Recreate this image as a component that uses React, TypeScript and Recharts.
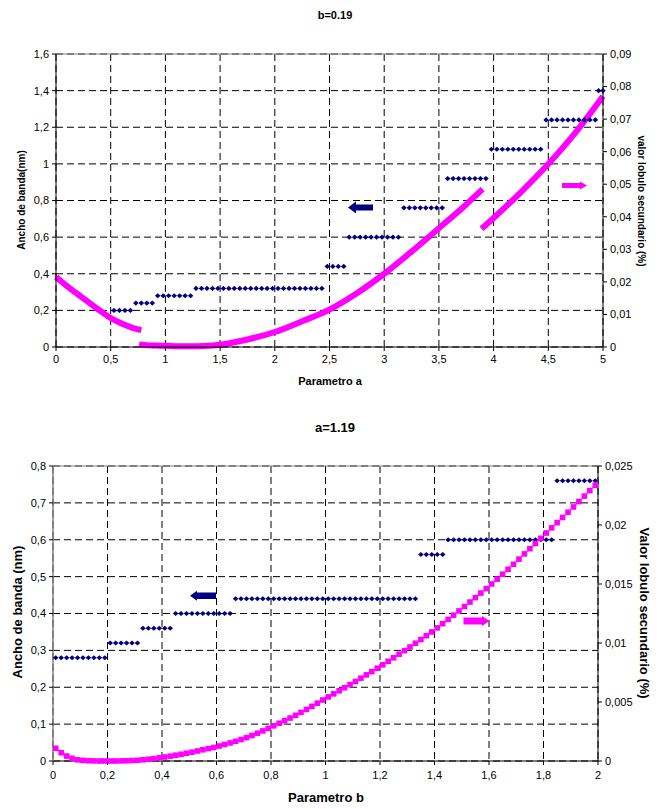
import React from 'react';
import { ComposedChart, Line, XAxis, YAxis, CartesianGrid, ReferenceLine } from 'recharts';

const FONT = '"Liberation Sans", Arial, sans-serif';
const NAVY = '#000080';
const MAGENTA = '#FF00FF';

// ---- grafico 1: b=0.19 (parametro a)
const aBand = [
  0.53, 0.58, 0.63, 0.68,
  0.73, 0.78, 0.83, 0.88,
  0.93, 0.98, 1.03, 1.08, 1.13, 1.18, 1.23,
  1.28, 1.33, 1.38, 1.43, 1.48, 1.53, 1.58, 1.63, 1.68, 1.73, 1.78, 1.83,
  1.88, 1.93, 1.98, 2.03, 2.08, 2.13, 2.18, 2.23, 2.28, 2.33, 2.38, 2.43,
  2.48, 2.53, 2.58, 2.63,
  2.68, 2.73, 2.78, 2.83, 2.88, 2.93, 2.98, 3.03, 3.08, 3.13,
  3.18, 3.23, 3.28, 3.33, 3.38, 3.43, 3.48, 3.53,
  3.58, 3.63, 3.68, 3.73, 3.78, 3.83, 3.88, 3.93,
  3.98, 4.03, 4.08, 4.13, 4.18, 4.23, 4.28, 4.33, 4.38, 4.43,
  4.48, 4.53, 4.58, 4.63, 4.68, 4.73, 4.78, 4.83, 4.88, 4.93,
  4.96, 5.0,
];
const anchoA = [
  0.2, 0.2, 0.2, 0.2,
  0.24, 0.24, 0.24, 0.24,
  0.28, 0.28, 0.28, 0.28, 0.28, 0.28, 0.28,
  0.32, 0.32, 0.32, 0.32, 0.32, 0.32, 0.32, 0.32, 0.32, 0.32, 0.32, 0.32,
  0.32, 0.32, 0.32, 0.32, 0.32, 0.32, 0.32, 0.32, 0.32, 0.32, 0.32, 0.32,
  0.44, 0.44, 0.44, 0.44,
  0.6, 0.6, 0.6, 0.6, 0.6, 0.6, 0.6, 0.6, 0.6, 0.6,
  0.76, 0.76, 0.76, 0.76, 0.76, 0.76, 0.76, 0.76,
  0.92, 0.92, 0.92, 0.92, 0.92, 0.92, 0.92, 0.92,
  1.08, 1.08, 1.08, 1.08, 1.08, 1.08, 1.08, 1.08, 1.08, 1.08,
  1.24, 1.24, 1.24, 1.24, 1.24, 1.24, 1.24, 1.24, 1.24, 1.24,
  1.4, 1.4,
];

// lobulo secundario, tres tramos
const aLobe1 = [0, 0.1, 0.2, 0.3, 0.4, 0.5, 0.6, 0.7, 0.78];
const lobe1 = [0.0215, 0.0187, 0.0162, 0.0137, 0.0112, 0.0089, 0.0072, 0.0059, 0.0052];
const aLobe2 = [0.76, 0.85, 0.95, 1.05, 1.15, 1.25, 1.35, 1.5, 1.75, 2, 2.25, 2.5, 2.75, 3, 3.25, 3.5, 3.75, 3.9];
const lobe2 = [0.00075, 0.0005, 0.0004, 0.0003, 0.0002, 0.0002, 0.0003, 0.0007, 0.0023, 0.0046, 0.0079, 0.0115, 0.0165, 0.0225, 0.0293, 0.0365, 0.0438, 0.0485];
const aLobe3 = [3.89, 4, 4.25, 4.5, 4.75, 5];
const lobe3 = [0.0363, 0.0396, 0.0476, 0.0562, 0.0659, 0.077];

const aTicks = [0, 0.5, 1, 1.5, 2, 2.5, 3, 3.5, 4, 4.5, 5];
const anchoTicksA = [0, 0.2, 0.4, 0.6, 0.8, 1, 1.2, 1.4, 1.6];
const lobeTicksA = [0, 0.01, 0.02, 0.03, 0.04, 0.05, 0.06, 0.07, 0.08, 0.09];

// ---- grafico 2: a=1.19 (parametro b)
const bVals = [
  0.01, 0.03, 0.05, 0.07, 0.09, 0.11, 0.13, 0.15, 0.17, 0.19,
  0.21, 0.23, 0.25, 0.27, 0.29, 0.31, 0.33, 0.35, 0.37, 0.39,
  0.41, 0.43, 0.45, 0.47, 0.49, 0.51, 0.53, 0.55, 0.57, 0.59,
  0.61, 0.63, 0.65, 0.67, 0.69, 0.71, 0.73, 0.75, 0.77, 0.79,
  0.81, 0.83, 0.85, 0.87, 0.89, 0.91, 0.93, 0.95, 0.97, 0.99,
  1.01, 1.03, 1.05, 1.07, 1.09, 1.11, 1.13, 1.15, 1.17, 1.19,
  1.21, 1.23, 1.25, 1.27, 1.29, 1.31, 1.33, 1.35, 1.37, 1.39,
  1.41, 1.43, 1.45, 1.47, 1.49, 1.51, 1.53, 1.55, 1.57, 1.59,
  1.61, 1.63, 1.65, 1.67, 1.69, 1.71, 1.73, 1.75, 1.77, 1.79,
  1.81, 1.83, 1.85, 1.87, 1.89, 1.91, 1.93, 1.95, 1.97, 1.99,
];
const anchoB = [
  0.28, 0.28, 0.28, 0.28, 0.28, 0.28, 0.28, 0.28, 0.28, 0.28,
  0.32, 0.32, 0.32, 0.32, 0.32, 0.32, 0.36, 0.36, 0.36, 0.36,
  0.36, 0.36, 0.4, 0.4, 0.4, 0.4, 0.4, 0.4, 0.4, 0.4,
  0.4, 0.4, 0.4, 0.44, 0.44, 0.44, 0.44, 0.44, 0.44, 0.44,
  0.44, 0.44, 0.44, 0.44, 0.44, 0.44, 0.44, 0.44, 0.44, 0.44,
  0.44, 0.44, 0.44, 0.44, 0.44, 0.44, 0.44, 0.44, 0.44, 0.44,
  0.44, 0.44, 0.44, 0.44, 0.44, 0.44, 0.44, 0.56, 0.56, 0.56,
  0.56, 0.56, 0.6, 0.6, 0.6, 0.6, 0.6, 0.6, 0.6, 0.6,
  0.6, 0.6, 0.6, 0.6, 0.6, 0.6, 0.6, 0.6, 0.6, 0.6,
  0.6, 0.6, 0.76, 0.76, 0.76, 0.76, 0.76, 0.76, 0.76, 0.76,
];
const lobeB = [
  0.00108, 0.0007, 0.00042, 0.00023, 0.0001, 0.00005, 0.00002, 0.00001, 0, 0,
  0, 0, 0.00001, 0.00002, 0.00004, 0.00006, 0.0001, 0.00015, 0.0002, 0.00027,
  0.00034, 0.00041, 0.00049, 0.00057, 0.00066, 0.00075, 0.00085, 0.00095, 0.00105, 0.00115,
  0.00127, 0.0014, 0.00153, 0.00167, 0.00182, 0.00198, 0.00216, 0.00235, 0.00255, 0.00276,
  0.00298, 0.0032, 0.00342, 0.00364, 0.00387, 0.00412, 0.00437, 0.00463, 0.0049, 0.00517,
  0.00543, 0.00569, 0.00595, 0.00621, 0.00647, 0.00674, 0.00702, 0.0073, 0.00758, 0.00786,
  0.00815, 0.00845, 0.00875, 0.00905, 0.00935, 0.00966, 0.00998, 0.0103, 0.01062, 0.01094,
  0.01128, 0.01164, 0.012, 0.01236, 0.01272, 0.01309, 0.01347, 0.01385, 0.01423, 0.01461,
  0.015, 0.01541, 0.01583, 0.01625, 0.01667, 0.01711, 0.01755, 0.01799, 0.01843, 0.01887,
  0.01932, 0.01976, 0.0202, 0.02064, 0.02108, 0.02153, 0.02199, 0.02245, 0.02291, 0.02337,
];

const bTicks = [0, 0.2, 0.4, 0.6, 0.8, 1, 1.2, 1.4, 1.6, 1.8, 2];
const anchoTicksB = [0, 0.1, 0.2, 0.3, 0.4, 0.5, 0.6, 0.7, 0.8];
const lobeTicksB = [0, 0.005, 0.01, 0.015, 0.02, 0.025];

const pairs = (xs: number[], ys: number[]) => xs.map((x, i) => ({ x, y: ys[i] }));

const bandData1 = pairs(aBand, anchoA);
const lobeSeg1 = pairs(aLobe1, lobe1);
const lobeSeg2 = pairs(aLobe2, lobe2);
const lobeSeg3 = pairs(aLobe3, lobe3);
const bandData2 = pairs(bVals, anchoB);
const lobeData2 = pairs(bVals, lobeB);

const comma = (v: number) => String(v).replace('.', ',');

const tickStyle = { fontSize: 11, fill: '#000', fontFamily: FONT };

const Diamond = (props: any) => {
  const { cx, cy, index } = props;
  if (cx == null || cy == null) return <g key={`d${index}`} />;
  return (
    <path
      key={`d${index}`}
      d={`M${cx},${cy - 2.6}L${cx + 2.8},${cy}L${cx},${cy + 2.6}L${cx - 2.8},${cy}Z`}
      fill={NAVY}
    />
  );
};

const Square = (props: any) => {
  const { cx, cy, index } = props;
  if (cx == null || cy == null) return <g key={`s${index}`} />;
  return <rect key={`s${index}`} x={cx - 2.8} y={cy - 2.8} width={5.6} height={5.6} fill={MAGENTA} />;
};

const bold = { fontFamily: FONT, fontWeight: 700, fill: '#000' } as const;

export default function App() {
  return (
    <div style={{ position: 'absolute', left: 0, top: 0, width: 665, height: 809, background: '#fff' }}>
      <div style={{ position: 'absolute', left: 0, top: 0 }}>
        <ComposedChart width={665} height={400} margin={{ top: 54, right: 22, bottom: 23, left: 16 }}>
          <CartesianGrid yAxisId="left" stroke="#000" strokeDasharray="7 4" />
          <XAxis
            type="number"
            dataKey="x"
            domain={[0, 5]}
            ticks={aTicks}
            tickFormatter={comma}
            tick={tickStyle}
            axisLine={{ stroke: '#000' }}
            tickLine={{ stroke: '#000' }}
            tickSize={4}
            tickMargin={4}
            height={30}
          />
          <YAxis
            yAxisId="left"
            domain={[0, 1.6]}
            ticks={anchoTicksA}
            tickFormatter={comma}
            tick={tickStyle}
            axisLine={{ stroke: '#000' }}
            tickLine={{ stroke: '#000' }}
            tickSize={4}
            tickMargin={3}
            width={40}
          />
          <YAxis
            yAxisId="right"
            orientation="right"
            domain={[0, 0.09]}
            ticks={lobeTicksA}
            tickFormatter={comma}
            tick={tickStyle}
            axisLine={{ stroke: '#000' }}
            tickLine={{ stroke: '#000' }}
            tickSize={4}
            tickMargin={3}
            width={40}
          />
          <ReferenceLine yAxisId="left" y={1.6} stroke="#808080" />
          <Line yAxisId="left" data={bandData1} dataKey="y" stroke="none" dot={Diamond} isAnimationActive={false} />
          <Line yAxisId="right" data={lobeSeg1} dataKey="y" type="monotone" stroke={MAGENTA} strokeWidth={6} dot={false} isAnimationActive={false} />
          <Line yAxisId="right" data={lobeSeg2} dataKey="y" type="monotone" stroke={MAGENTA} strokeWidth={6} dot={false} isAnimationActive={false} />
          <Line yAxisId="right" data={lobeSeg3} dataKey="y" type="monotone" stroke={MAGENTA} strokeWidth={6} dot={false} isAnimationActive={false} />
        </ComposedChart>
      </div>

      <div style={{ position: 'absolute', left: 0, top: 400 }}>
        <ComposedChart width={665} height={409} margin={{ top: 66, right: 22, bottom: 18, left: 13 }}>
          <CartesianGrid yAxisId="left" stroke="#000" strokeDasharray="7 4" />
          <XAxis
            type="number"
            dataKey="x"
            domain={[0, 2]}
            ticks={bTicks}
            tickFormatter={comma}
            tick={tickStyle}
            axisLine={{ stroke: '#000' }}
            tickLine={{ stroke: '#000' }}
            tickSize={4}
            tickMargin={6}
            height={30}
          />
          <YAxis
            yAxisId="left"
            domain={[0, 0.8]}
            ticks={anchoTicksB}
            tickFormatter={comma}
            tick={tickStyle}
            axisLine={{ stroke: '#808080', strokeWidth: 1.5 }}
            tickLine={{ stroke: '#000' }}
            tickSize={4}
            tickMargin={3}
            width={40}
          />
          <YAxis
            yAxisId="right"
            orientation="right"
            domain={[0, 0.025]}
            ticks={lobeTicksB}
            tickFormatter={comma}
            tick={tickStyle}
            axisLine={{ stroke: '#000' }}
            tickLine={{ stroke: '#000' }}
            tickSize={4}
            tickMargin={3}
            width={45}
          />
          <ReferenceLine yAxisId="left" y={0.8} stroke="#808080" />
          <Line yAxisId="left" data={bandData2} dataKey="y" stroke="none" dot={Diamond} isAnimationActive={false} />
          <Line yAxisId="right" data={lobeData2} dataKey="y" stroke={MAGENTA} strokeWidth={1} dot={Square} isAnimationActive={false} />
        </ComposedChart>
      </div>

      <svg width={665} height={809} style={{ position: 'absolute', left: 0, top: 0, pointerEvents: 'none' }}>
        <text x={335} y={19} textAnchor="middle" fontSize={11} {...bold}>b=0.19</text>
        <text x={330} y={385} textAnchor="middle" fontSize={11} {...bold}>Parametro a</text>
        <text transform="translate(25,200) rotate(-90)" textAnchor="middle" fontSize={10} {...bold}>Ancho de banda(nm)</text>
        <text transform="translate(638,201) rotate(90)" textAnchor="middle" fontSize={10} {...bold}>valor lobulo secundario (%)</text>

        <text x={335} y={432} textAnchor="middle" fontSize={13} {...bold}>a=1.19</text>
        <text x={326} y={802} textAnchor="middle" fontSize={13} {...bold}>Parametro b</text>
        <text transform="translate(22,612) rotate(-90)" textAnchor="middle" fontSize={13} {...bold}>Ancho de banda (nm)</text>
        <text transform="translate(640,613) rotate(90)" textAnchor="middle" fontSize={13} {...bold}>Valor lobulo secundario (%)</text>

        <polygon points="348,207.5 356,201.5 356,204.5 373,204.5 373,210.5 356,210.5 356,213.5" fill={NAVY} />
        <polygon points="587,185.5 580,181.5 580,183 562,183 562,188 580,188 580,189.5" fill={MAGENTA} />
        <polygon points="190,595.7 197,590.7 197,592.5 216,592.5 216,599 197,599 197,600.7" fill={NAVY} />
        <polygon points="489.5,621 482,616 482,617.5 463.5,617.5 463.5,624.5 482,624.5 482,626" fill={MAGENTA} />
      </svg>
    </div>
  );
}
